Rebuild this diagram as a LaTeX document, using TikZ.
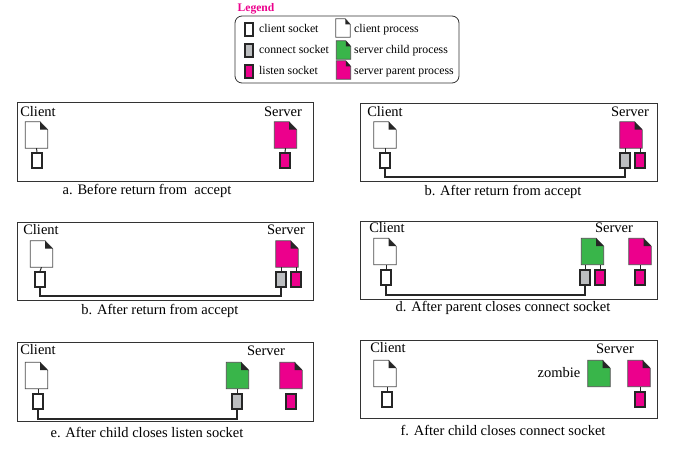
\documentclass[tikz,border=0pt]{standalone}
\usepackage{fontspec}
\setmainfont{Liberation Serif}
\usepackage{xcolor}
\usetikzlibrary{positioning, calc}
\definecolor{srvpink}{HTML}{EC008C}
\definecolor{srvgreen}{HTML}{39B54A}
\definecolor{sockgray}{HTML}{BCBEC0}
\tikzset{
  panel/.style={rectangle, draw=black!80, line width=0.9pt, inner sep=0pt},
  proc/.style={rectangle, minimum width=22pt, minimum height=26pt, inner sep=0pt},
  legproc/.style={rectangle, minimum width=14pt, minimum height=18pt, inner sep=0pt},
  sock/.style={rectangle, draw=black!85, line width=1.5pt, minimum width=10pt, minimum height=15pt, inner sep=0pt},
  legsock/.style={sock, minimum width=8pt, minimum height=13pt},
  csock/.style={fill=white},
  gsock/.style={fill=sockgray},
  lsock/.style={fill=srvpink},
  stub/.style={draw=black!85, line width=1pt},
  wire/.style={draw=black!85, line width=1.8pt},
  lab/.style={font=\fontsize{14.5}{16}\selectfont, inner sep=0pt},
  legtext/.style={font=\fontsize{11.8}{13}\selectfont, inner sep=0pt, anchor=base west},
}
% process page with the folded corner
\newcommand{\procfile}[5][proc]{%
  \node[#1] (#2) at (#3,#4) {};
  \coordinate (#2f) at ($(#2.north west)!0.66!(#2.north east)$);
  \coordinate (#2g) at ($(#2.north east)!0.3!(#2.south east)$);
  \filldraw[fill=#5, draw=black!70, line width=0.7pt]
    (#2.south west) -- (#2.north west) -- (#2f) -- (#2g) -- (#2.south east) -- cycle;
  \fill[black!85] (#2f) -- (#2g) -- (#2f |- #2g) -- cycle;
}
\begin{document}
\begin{tikzpicture}[x=1pt, y=-1pt]
  \useasboundingbox (0,0) rectangle (693,462);

  % legend
  \node[font=\fontsize{11.6}{13}\selectfont\bfseries, text=srvpink, inner sep=0pt] (legtitle) at (256,9) {Legend};
  \node[draw=black!80, line width=0.8pt, rounded corners=7pt, minimum width=224pt, minimum height=67pt, inner sep=0pt] (legbox) at (347,49.5) {};
  \node[legsock, csock] (legc) at (249,29.5) {};
  \node[legsock, gsock] (legg) at (249,50.5) {};
  \node[legsock, lsock] (legl) at (249,71.5) {};
  \node[legtext] (legct) at (259,33) {client socket};
  \node[legtext] (leggt) at (259,53.5) {connect socket};
  \node[legtext] (leglt) at (259,75) {listen socket};
  \procfile[legproc]{legpc}{343}{28}{white}
  \procfile[legproc]{legpg}{343.5}{50}{srvgreen}
  \procfile[legproc]{legpp}{343.5}{70}{srvpink}
  \node[legtext] (legpct) at (354,33) {client process};
  \node[legtext] (legpgt) at (354,53.5) {server child process};
  \node[legtext] (legppt) at (354,75) {server parent process};

  % a
  \node[panel, minimum width=296pt, minimum height=79pt] (pa) at (165,141.5) {};
  \node[lab] (aclient) at (38,112) {Client};
  \node[lab] (aserver) at (283,112) {Server};
  \procfile{apc}{36.5}{135}{white}
  \procfile{app}{285.5}{135}{srvpink}
  \node[sock, csock] (acs) at (37,160.5) {};
  \node[sock, lsock] (als) at (285,160.5) {};
  \draw[stub] (apc.south) -- (acs.north);
  \draw[stub] (app.south) -- (als.north);
  \node[lab] (acap) at (147,191) {a. Before return from\ \ accept};

  % b, right hand
  \node[panel, minimum width=297pt, minimum height=78pt] (pb) at (508.5,142) {};
  \node[lab] (bclient) at (385,112) {Client};
  \node[lab] (bserver) at (630,112) {Server};
  \procfile{bpc}{385}{135}{white}
  \procfile{bpp}{631}{135}{srvpink}
  \node[sock, csock] (bcs) at (385,160.5) {};
  \node[sock, gsock] (bgs) at (625,160.5) {};
  \node[sock, lsock] (bls) at (640,160.5) {};
  \draw[stub] (bpc.south) -- (bcs.north);
  \draw[stub] (bgs.north) -- (bgs.north |- bpp.south);
  \draw[stub] (bls.north) -- (bls.north |- bpp.south);
  \draw[wire] (bcs.south) -- ++(0,8) -| (bgs.south);
  \node[lab] (bcap) at (503,192) {b. After return from accept};

  % b, left hand
  \node[panel, minimum width=296pt, minimum height=78pt] (pc) at (165,261) {};
  \node[lab] (cclient) at (41,230) {Client};
  \node[lab] (cserver) at (286,230) {Server};
  \procfile{cpc}{41.5}{254}{white}
  \procfile{cpp}{287}{254}{srvpink}
  \node[sock, csock] (ccs) at (40,279.5) {};
  \node[sock, gsock] (cgs) at (281,279.5) {};
  \node[sock, lsock] (cls) at (296,279.5) {};
  \draw[stub] (cpc.south) -- (ccs.north);
  \draw[stub] (cgs.north) -- (cgs.north |- cpp.south);
  \draw[stub] (cls.north) -- (cls.north |- cpp.south);
  \draw[wire] (ccs.south) -- ++(0,8) -| (cgs.south);
  \node[lab] (ccap) at (160,311) {b. After return from accept};

  % d
  \node[panel, minimum width=297pt, minimum height=78pt] (pd) at (508.5,260.5) {};
  \node[lab] (dclient) at (387,228) {Client};
  \node[lab] (dserver) at (614,228) {Server};
  \procfile{dpc}{385}{251.5}{white}
  \procfile{dpg}{592.5}{251.5}{srvgreen}
  \procfile{dpp}{640}{251.5}{srvpink}
  \node[sock, csock] (dcs) at (386,277.5) {};
  \node[sock, gsock] (dgs) at (585,277.5) {};
  \node[sock, lsock] (dls) at (600,277.5) {};
  \node[sock, lsock] (dps) at (640,277.5) {};
  \draw[stub] (dcs.north) -- (dcs.north |- dpc.south);
  \draw[stub] (dgs.north) -- (dgs.north |- dpg.south);
  \draw[stub] (dls.north) -- (dls.north |- dpg.south);
  \draw[stub] (dps.north) -- (dps.north |- dpp.south);
  \draw[wire] (dcs.south) -- ++(0,9) -| (dgs.south);
  \node[lab] (dcap) at (503,308) {d. After parent closes connect socket};

  % e
  \node[panel, minimum width=296pt, minimum height=79pt] (pe) at (165,381.5) {};
  \node[lab] (eclient) at (38,350) {Client};
  \node[lab] (eserver) at (266,351) {Server};
  \procfile{epc}{36.5}{375.5}{white}
  \procfile{epg}{237.5}{375.5}{srvgreen}
  \procfile{epp}{291}{375.5}{srvpink}
  \node[sock, csock] (ecs) at (38,401.5) {};
  \node[sock, gsock] (egs) at (237,401.5) {};
  \node[sock, lsock] (els) at (291,401.5) {};
  \draw[stub] (ecs.north) -- (ecs.north |- epc.south);
  \draw[stub] (egs.north) -- (egs.north |- epg.south);
  \draw[wire] (ecs.south) -- ++(0,9) -| (egs.south);
  \node[lab] (ecap) at (147,432) {e. After child closes listen socket};

  % f
  \node[panel, minimum width=297pt, minimum height=78pt] (pf) at (508.5,379) {};
  \node[lab] (fclient) at (388,348) {Client};
  \node[lab] (fserver) at (615,349) {Server};
  \node[lab] (fzombie) at (559,373) {zombie};
  \procfile{fpc}{385}{373.5}{white}
  \procfile{fpg}{599}{373.5}{srvgreen}
  \procfile{fpp}{639}{373.5}{srvpink}
  \node[sock, csock] (fcs) at (387,399.5) {};
  \node[sock, lsock] (fls) at (640,399.5) {};
  \draw[stub] (fcs.north) -- (fcs.north |- fpc.south);
  \draw[stub] (fls.north) -- (fls.north |- fpp.south);
  \node[lab] (fcap) at (503,430) {f. After child closes connect socket};
\end{tikzpicture}
\end{document}
